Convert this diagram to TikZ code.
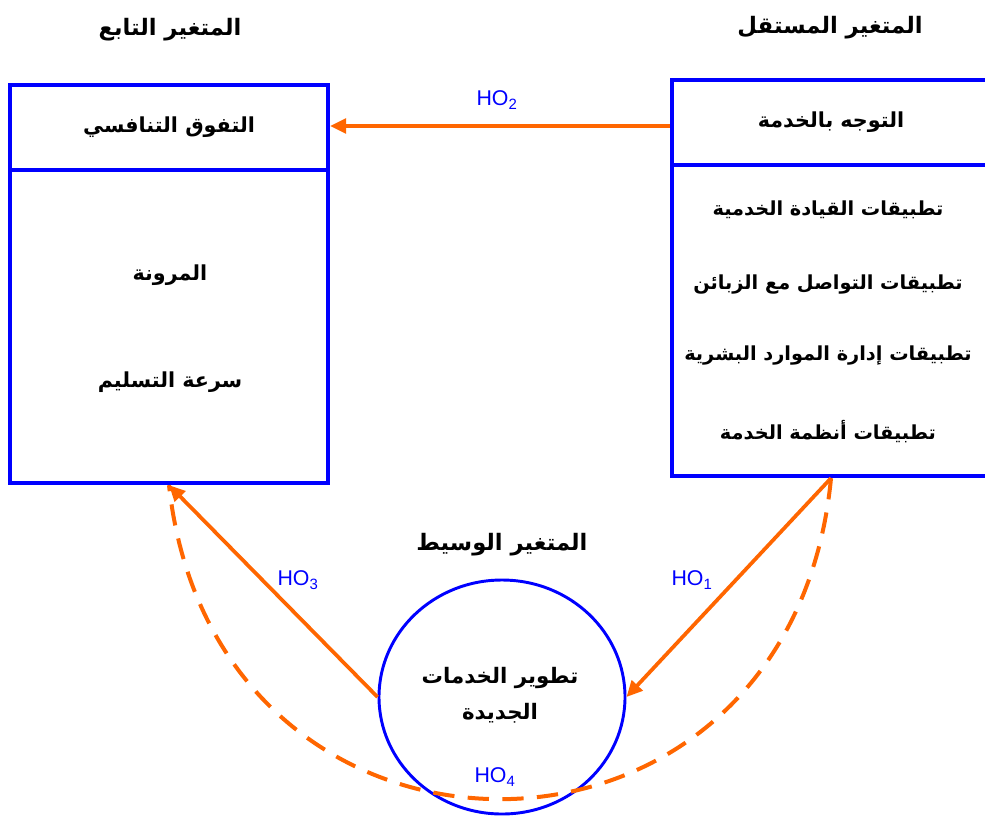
\documentclass[tikz,border=0pt]{standalone}
\usepackage{fontspec}
\setmainfont{Liberation Sans}
\newfontfamily\arabicfont[Script=Arabic]{DejaVu Sans}
\TeXXeTstate=1
\usetikzlibrary{arrows.meta,fit,shapes.geometric}
\definecolor{hoorange}{RGB}{255,102,0}
\definecolor{hoblue}{RGB}{0,0,255}
\newcommand{\ar}[1]{{\arabicfont\bfseries\beginR #1\endR}}
\begin{document}
\begin{tikzpicture}[x=0.75pt,y=-0.75pt,
  boxpart/.style={draw=hoblue,line width=3.2pt,inner sep=0pt},
  arlabel/.style={font=\fontsize{15.5}{18}\selectfont,text=black},
  listlabel/.style={font=\fontsize{14.5}{17}\selectfont,text=black},
  titlelabel/.style={font=\fontsize{17}{20}\selectfont,text=black},
  holabel/.style={font=\fontsize{16}{18}\selectfont,text=hoblue},
  link/.style={draw=hoorange,line width=2.8pt,-{Triangle[length=12pt,width=11pt]}},
  dashlink/.style={draw=hoorange,line width=3pt,dash pattern=on 16pt off 10pt}]
\useasboundingbox (0,0) rectangle (985,819);
% coordinates for box corners
\coordinate (lh1) at (10,85);  \coordinate (lh2) at (328,170);
\coordinate (lb1) at (10,170); \coordinate (lb2) at (328,483);
\coordinate (rh1) at (672,80); \coordinate (rh2) at (990,165);
\coordinate (rb1) at (672,165);\coordinate (rb2) at (990,476);
\node[boxpart,fit=(lh1)(lh2)] (lhead) {};
\node[boxpart,fit=(lb1)(lb2)] (lbody) {};
\node[boxpart,fit=(rh1)(rh2)] (rhead) {};
\node[boxpart,fit=(rb1)(rb2)] (rbody) {};
% titles
\node[titlelabel] (tdep) at (170,30) {\ar{المتغير التابع}};
\node[titlelabel] (tind) at (830,28) {\ar{المتغير المستقل}};
\node[titlelabel] (tmed) at (502,545) {\ar{المتغير الوسيط}};
% box texts
\node[arlabel] (lht) at (lhead.center) {\ar{التفوق التنافسي}};
\node[arlabel] (rht) at (rhead.center) {\ar{التوجه بالخدمة}};
\node[arlabel] (l1) at (170,275) {\ar{المرونة}};
\node[arlabel] (l2) at (170,382) {\ar{سرعة التسليم}};
\node[listlabel] (r1) at (828,210) {\ar{تطبيقات القيادة الخدمية}};
\node[listlabel] (r2) at (828,285) {\ar{تطبيقات التواصل مع الزبائن}};
\node[listlabel] (r3) at (828,356) {\ar{تطبيقات إدارة الموارد البشرية}};
\node[listlabel] (r4) at (828,432) {\ar{تطبيقات أنظمة الخدمة}};
% mediator
\node[ellipse,draw=hoblue,line width=2.2pt,minimum width=184.5pt,minimum height=175.5pt,inner sep=0pt] (med) at (502,697) {};
\node[arlabel,align=center,font=\fontsize{16}{19}\selectfont] (medt) at (500,695) {\ar{تطوير الخدمات}\\[8pt]\ar{الجديدة}};
% connectors
\draw[link] (rhead.west |- 0,126) -- (lhead.east |- 0,126);
\draw[dashlink] (rbody.south) .. controls (790,905) and (215,905) .. (lbody.south);
\draw[link] (rbody.south) -- (med.east);
\draw[link] (med.west) -- (lbody.south);
% HO labels
\node[holabel] (ho2) at (497,100) {HO\textsubscript{2}};
\node[holabel] (ho1) at (692,580) {HO\textsubscript{1}};
\node[holabel] (ho3) at (298,580) {HO\textsubscript{3}};
\node[holabel] (ho4) at (495,777) {HO\textsubscript{4}};
\end{tikzpicture}
\end{document}
